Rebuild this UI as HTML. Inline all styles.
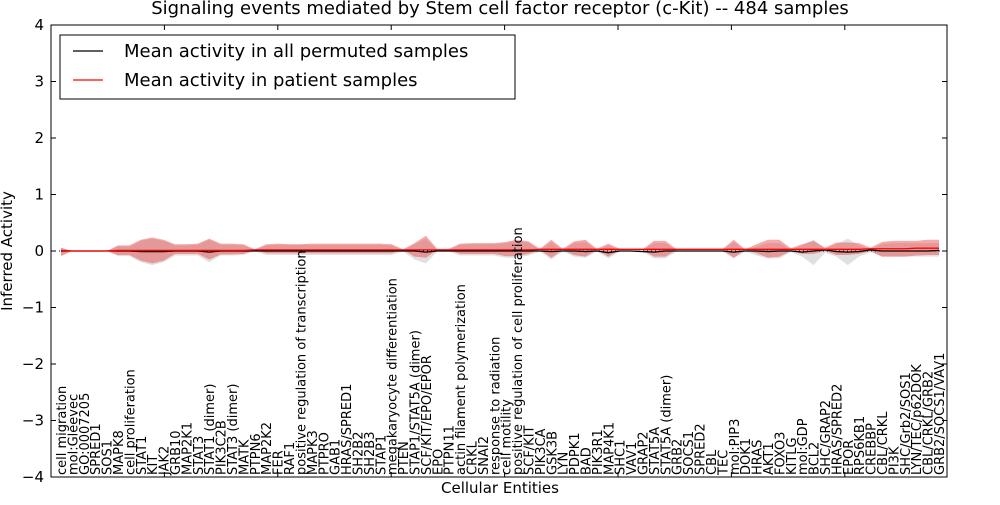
<!DOCTYPE html>
<html><head><meta charset="utf-8"><style>
body{margin:0;background:#fff;}
svg text{font-family:"DejaVu Sans","Liberation Sans",sans-serif;}
</style></head><body>
<svg id="chart" width="1000" height="500" xmlns="http://www.w3.org/2000/svg">
<text x="500" y="14" font-size="18" text-anchor="middle">Signaling events mediated by Stem cell factor receptor (c-Kit) -- 484 samples</text>
<text transform="translate(12,251) rotate(-90)" font-size="15" text-anchor="middle">Inferred Activity</text>
<text x="500" y="493" font-size="15" text-anchor="middle">Cellular Entities</text>
<g id="plot"></g>
<g>
<rect x="60" y="35" width="455" height="64" fill="#fff" stroke="#000" stroke-width="1"/>
<line x1="73" y1="51" x2="103" y2="51" stroke="#000" stroke-width="1.2"/>
<text x="124" y="57" font-size="18">Mean activity in all permuted samples</text>
<line x1="73" y1="80" x2="103" y2="80" stroke="#f00" stroke-width="1.2"/>
<text x="124" y="86" font-size="18">Mean activity in patient samples</text>
</g>
</svg>
<script>
const categories=["cell migration","mol:Gleevec","GO:0007205","SPRED1","SOS1","MAPK8","cell proliferation","STAT1","KIT","JAK2","GRB10","MAP2K1","STAT3","STAT1 (dimer)","PIK3C2B","STAT3 (dimer)","MATK","PTPN6","MAP2K2","FER","RAF1","positive regulation of transcription","MAPK3","PTPRO","GAB1","HRAS/SPRED1","SH2B2","SH2B3","STAP1","megakaryocyte differentiation","PTEN","STAP1/STAT5A (dimer)","SCF/KIT/EPO/EPOR","EPO","PTPN11","actin filament polymerization","CRKL","SNAI2","response to radiation","cell motility","positive regulation of cell proliferation","SCF/KIT","PIK3CA","GSK3B","LYN","PDPK1","BAD","PIK3R1","MAP4K1","SHC1","VAV1","GRAP2","STAT5A","STAT5A (dimer)","GRB2","SOCS1","SPRED2","CBL","TEC","mol:PIP3","DOK1","HRAS","AKT1","FOXO3","KITLG","mol:GDP","BCL2","SHC/GRAP2","HRAS/SPRED2","EPOR","RPS6KB1","CREBBP","CBL/CRKL","PI3K","SHC/Grb2/SOS1","LYN/TEC/p62DOK","CBL/CRKL/GRB2","GRB2/SOCS1/VAV1"];
const yTicks=[-4,-3,-2,-1,0,1,2,3,4];
const meanPatient=[0.01,0.0,0.0,0.0,0.0,0.01,0.01,0.01,0.01,0.01,0.01,0.01,0.01,0.01,0.01,0.01,0.01,0.02,0.02,0.02,0.02,0.02,0.02,0.02,0.02,0.02,0.02,0.02,0.02,0.02,0.02,0.02,0.02,0.02,0.02,0.02,0.02,0.02,0.02,0.02,0.02,0.02,0.03,0.03,0.03,0.03,0.03,0.03,0.03,0.03,0.03,0.03,0.03,0.03,0.03,0.03,0.03,0.03,0.03,0.03,0.03,0.03,0.03,0.03,0.03,0.03,0.03,0.03,0.03,0.03,0.03,0.04,0.04,0.04,0.04,0.05,0.05,0.05];
const meanPermuted=[0.0,0.0,0.0,0.0,0.0,0.0,0.0,-0.01,-0.01,-0.01,0.0,0.0,0.0,-0.02,0.0,0.0,0.0,0.0,0.0,0.0,0.0,0.0,0.0,0.0,0.0,0.0,0.0,0.0,0.0,0.0,0.0,0.0,-0.02,0.0,0.0,0.0,0.0,0.0,0.0,0.0,0.0,0.0,0.0,-0.01,0.0,0.0,-0.01,0.0,-0.03,0.0,0.0,-0.01,-0.02,0.0,0.0,0.0,0.0,0.0,0.0,-0.02,0.0,0.0,-0.01,0.0,0.0,-0.02,0.0,0.02,-0.01,-0.02,-0.01,0.02,0.0,0.0,0.0,0.0,0.0,0.01];
const redUpper=[0.06,0.0,0.0,0.0,0.0,0.1,0.1,0.2,0.24,0.2,0.12,0.12,0.13,0.22,0.13,0.13,0.12,0.03,0.12,0.13,0.12,0.12,0.13,0.13,0.13,0.13,0.13,0.13,0.13,0.12,0.03,0.14,0.27,0.04,0.04,0.13,0.14,0.14,0.14,0.16,0.2,0.17,0.04,0.2,0.04,0.17,0.2,0.04,0.13,0.04,0.03,0.03,0.18,0.18,0.03,0.03,0.03,0.03,0.03,0.2,0.03,0.12,0.2,0.2,0.05,0.12,0.18,0.06,0.15,0.15,0.14,0.06,0.16,0.18,0.18,0.18,0.2,0.2];
const redLower=[-0.08,0.0,0.0,0.0,0.0,-0.07,-0.07,-0.17,-0.22,-0.17,-0.05,-0.05,-0.05,-0.15,-0.06,-0.06,-0.05,0.02,-0.04,-0.04,-0.04,-0.04,-0.04,-0.04,-0.04,-0.04,-0.04,-0.04,-0.04,-0.04,0.02,-0.1,-0.12,0.02,0.02,-0.05,-0.05,-0.05,-0.05,-0.09,-0.09,-0.05,0.02,-0.12,0.02,-0.07,-0.1,0.02,-0.1,0.02,0.02,0.02,-0.1,-0.1,0.02,0.02,0.02,0.02,0.02,-0.12,0.02,-0.04,-0.12,-0.1,0.0,-0.05,-0.05,0.0,-0.07,-0.07,-0.05,0.0,-0.1,-0.1,-0.1,-0.08,-0.07,-0.07];
const grayUpper=[0.05,0.0,0.0,0.0,0.0,0.08,0.08,0.18,0.22,0.18,0.1,0.1,0.11,0.2,0.11,0.11,0.1,0.01,0.1,0.11,0.11,0.11,0.11,0.11,0.11,0.11,0.11,0.11,0.11,0.1,0.01,0.12,0.22,0.01,0.01,0.11,0.12,0.12,0.12,0.14,0.18,0.15,0.01,0.16,0.01,0.14,0.16,0.01,0.1,0.01,0.01,0.01,0.14,0.14,0.01,0.01,0.01,0.01,0.01,0.16,0.01,0.08,0.14,0.14,0.02,0.1,0.2,0.04,0.12,0.22,0.1,0.03,0.12,0.14,0.14,0.14,0.14,0.14];
const grayLower=[-0.1,0.0,0.0,0.0,0.0,-0.09,-0.09,-0.2,-0.25,-0.2,-0.08,-0.08,-0.08,-0.2,-0.08,-0.08,-0.07,-0.01,-0.07,-0.07,-0.07,-0.07,-0.07,-0.07,-0.07,-0.07,-0.07,-0.07,-0.07,-0.07,-0.01,-0.15,-0.22,-0.01,-0.01,-0.08,-0.08,-0.08,-0.08,-0.12,-0.12,-0.08,-0.01,-0.15,-0.01,-0.1,-0.12,-0.01,-0.13,-0.01,-0.01,-0.01,-0.13,-0.13,-0.01,-0.01,-0.01,-0.01,-0.01,-0.13,-0.01,-0.08,-0.13,-0.13,-0.02,-0.1,-0.25,-0.03,-0.1,-0.25,-0.1,-0.02,-0.1,-0.1,-0.1,-0.1,-0.1,-0.1];

const L=51,R=947,T=25,B=477;
const xs=i=>61+i*(939-61)/(categories.length-1);
const ys=v=>T+(4-v)*(B-T)/8;
const NS="http://www.w3.org/2000/svg";
const plot=document.getElementById('plot');
function mk(tag,attrs,parent){const e=document.createElementNS(NS,tag);for(const k in attrs)e.setAttribute(k,attrs[k]);(parent||plot).appendChild(e);return e;}
function band(up,lo,fill,op,name){
  let d="M"+up.map((v,i)=>xs(i)+","+ys(v)).join("L");
  for(let i=lo.length-1;i>=0;i--)d+="L"+xs(i)+","+ys(lo[i]);
  const p=mk('path',{d:d+"Z",fill:fill,'fill-opacity':op,stroke:'none'});
  
  
}
band(grayUpper,grayLower,'#bbbbbb',0.45,'permuted-band');
band(redUpper,redLower,'#e84040',0.45,'patient-band');
const zl=mk('line',{x1:L,x2:R,y1:ys(0),y2:ys(0),stroke:'#000','stroke-dasharray':'1,3','stroke-width':1});


function line(vals,col,name){
  const p=mk('polyline',{points:vals.map((v,i)=>xs(i)+","+ys(v)).join(" "),fill:'none',stroke:col,'stroke-width':1.3});
  
  
}
line(meanPermuted,'#000','permuted-mean-line');
line(meanPatient,'#f00','patient-mean-line');
const fr=mk('rect',{x:L,y:T,width:R-L,height:B-T,fill:'none',stroke:'#000','stroke-width':1});


yTicks.forEach(v=>{
  mk('line',{x1:L,x2:L+5,y1:ys(v),y2:ys(v),stroke:'#000'});
  mk('line',{x1:R-5,x2:R,y1:ys(v),y2:ys(v),stroke:'#000'});
  const t=mk('text',{x:L-7,y:ys(v)+5,'font-size':15,'text-anchor':'end'});
  t.textContent=(v<0?"\u2212"+(-v):v);
  
  
});
for(let k=1;k<8;k++){const x=L+k*113.4;mk('line',{x1:x,x2:x,y1:T,y2:T+5,stroke:'#000'});mk('line',{x1:x,x2:x,y1:B-5,y2:B,stroke:'#000'});}
categories.forEach((c,i)=>{
  const t=mk('text',{transform:"translate("+(xs(i)+5)+","+(B-2)+") rotate(-90)",'font-size':13});
  t.textContent=c;
  
  
});
</script>
</body></html>
